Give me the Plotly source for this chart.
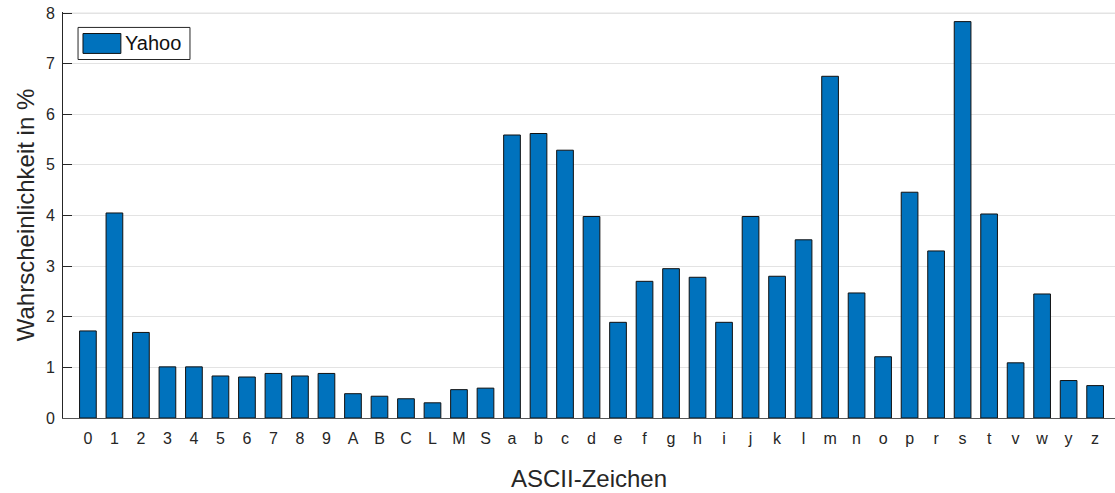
import plotly.graph_objects as go

# ---- data ----
categories = ["0", "1", "2", "3", "4", "5", "6", "7", "8", "9",
              "A", "B", "C", "L", "M", "S",
              "a", "b", "c", "d", "e", "f", "g", "h", "i", "j", "k", "l",
              "m", "n", "o", "p", "r", "s", "t", "v", "w", "y", "z"]
yahoo = [1.72, 4.05, 1.69, 1.01, 1.01, 0.83, 0.81, 0.88, 0.83, 0.88,
         0.48, 0.43, 0.38, 0.30, 0.56, 0.59,
         5.59, 5.62, 5.29, 3.98, 1.89, 2.70, 2.95, 2.78, 1.89, 3.98, 2.80, 3.52,
         6.75, 2.47, 1.21, 4.46, 3.30, 7.83, 4.03, 1.09, 2.45, 0.74, 0.64]
series_name = "Yahoo"
y_ticks = [0, 1, 2, 3, 4, 5, 6, 7, 8]
x_title = "ASCII-Zeichen"
y_title = "Wahrscheinlichkeit in %"

BAR_COLOR = "#0072BD"
TXT = "#262626"
FONT = "Liberation Sans, Arial, sans-serif"

x_pos = list(range(len(categories)))

fig = go.Figure()
fig.add_trace(go.Bar(
    x=x_pos, y=yahoo, name=series_name, width=0.63,
    marker=dict(color=BAR_COLOR, line=dict(color="#111111", width=1)),
    showlegend=False, hoverinfo="skip",
))

# legend (drawn box with a MATLAB-style swatch)
fig.add_shape(type="rect", xref="paper", yref="paper",
              x0=0.0143, x1=0.1207, y0=0.883, y1=0.962,
              line=dict(color=TXT, width=1), fillcolor="white", layer="above")
fig.add_shape(type="rect", xref="paper", yref="paper",
              x0=0.019, x1=0.055, y0=0.898, y1=0.947,
              line=dict(color="#111111", width=1), fillcolor=BAR_COLOR, layer="above")
fig.add_annotation(xref="paper", yref="paper", x=0.0575, y=0.9225,
                   xanchor="left", yanchor="middle", text=series_name,
                   showarrow=False, font=dict(family=FONT, size=20, color="#111111"))

# top grid line (plotly drops the grid line lying exactly on the plot edge)
fig.add_shape(type="line", xref="paper", yref="y", x0=0, x1=1,
              y0=y_ticks[-1], y1=y_ticks[-1],
              line=dict(color="#e3e3e3", width=1), layer="below")

fig.update_layout(
    width=1115, height=493,
    margin=dict(l=63, r=0, t=12, b=75),
    paper_bgcolor="white", plot_bgcolor="white",
    font=dict(family=FONT, color=TXT),
    hovermode=False,
)
fig.update_xaxes(
    range=[-0.94, 38.75], automargin=False,
    tickmode="array", tickvals=x_pos, ticktext=categories,
    tickfont=dict(size=16, color=TXT),
    ticks="", showgrid=False, zeroline=False,
    showline=True, linecolor="#555555", linewidth=1,
    ticklabelstandoff=6,
    title=dict(text=x_title, font=dict(size=24, color=TXT), standoff=23),
)
fig.update_yaxes(
    range=[0, 8.02], tickvals=y_ticks, automargin=False,
    tickfont=dict(size=16, color=TXT),
    ticks="inside", ticklen=9, tickcolor=TXT, tickwidth=1,
    showgrid=True, gridcolor="#e3e3e3", gridwidth=1,
    zeroline=False,
    showline=True, linecolor=TXT, linewidth=1,
    ticklabelstandoff=4,
    title=dict(text=y_title, font=dict(size=24, color=TXT), standoff=4),
)

fig.write_html("out.html",
               config={"displayModeBar": False, "staticPlot": True},
               post_script="document.body.style.margin='0px';")
